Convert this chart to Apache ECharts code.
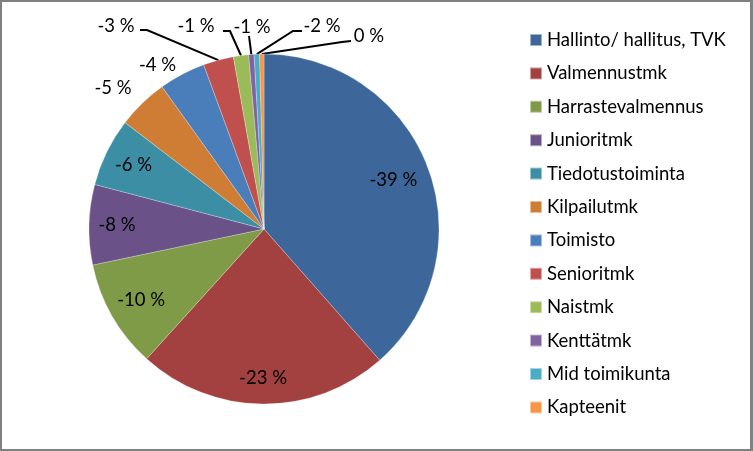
<!DOCTYPE html>
<html><head><meta charset="utf-8">
<script src="https://cdn.jsdelivr.net/npm/echarts@6/dist/echarts.min.js"></script>
<style>
html,body{margin:0;padding:0;background:#fff;}
#c{width:753px;height:451px;box-sizing:border-box;border-style:solid;border-color:#808080;border-width:2px 3px 2px 2px;}
</style></head>
<body><div id="c"></div>
<script>
// ---- data ----
const categories = ['Hallinto/ hallitus, TVK','Valmennustmk','Harrastevalmennus','Junioritmk','Tiedotustoiminta','Kilpailutmk','Toimisto','Senioritmk','Naistmk','Kenttätmk','Mid toimikunta','Kapteenit'];
const values = [38.5, 23.2, 10.0, 7.4, 6.3, 4.7, 4.3, 2.8, 1.4, 0.5, 0.5, 0.4];
const labelTexts = ['-39 %','-23 %','-10 %','-8 %','-6 %','-5 %','-4 %','-3 %','-1 %','-1 %','-2 %','0 %'];

// ---- style ----
const colors = ['#3D679A','#A2413F','#7F9B48','#6A5288','#3C8EA5','#CF7C35','#4A7EBB','#C0504D','#9BBB59','#8064A2','#4BACC6','#F79646'];
const FONT = 'Lato';
const CX = 262, CY = 227, R = 175;
const insideRatio = {0: 0.79, 1: 0.85, 2: 0.81, 3: 0.84, 4: 0.83};
const outsideNoLine = {5: {f: 1.19, ox: -6, oy: 9}, 6: {f: 1.13, ox: -14, oy: 11}};
const leader = {
  7:  {lx: 114, ly: 24, pts: [[145, 28], [138, 28]]},
  8:  {lx: 194, ly: 24, pts: [[228, 29], [221, 29]]},
  9:  {lx: 250, ly: 25, pts: [[247, 34]]},
  10: {lx: 320, ly: 24, pts: [[291, 29], [300, 29]]},
  11: {lx: 367, ly: 34, pts: [[340, 40], [349, 39]]}
};

const chart = echarts.init(document.getElementById('c'));
const data = categories.map((n, i) => {
  const d = {name: n, value: values[i], itemStyle: {color: colors[i]}};
  if (leader[i]) {
    d.label = {position: 'outside'};
    d.labelLine = {show: true};
  } else {
    d.label = {position: 'inside'};
    d.labelLine = {show: false};
  }
  return d;
});

chart.setOption({
  animation: false,
  legend: {
    orient: 'vertical', left: 527, top: 28, padding: 0,
    itemWidth: 12, itemHeight: 12, itemGap: 13.4,
    icon: 'rect',
    textStyle: {fontFamily: FONT, fontSize: 18.5, color: '#000', lineHeight: 20},
    data: categories
  },
  series: [{
    type: 'pie',
    center: [CX, CY], radius: R,
    startAngle: 90, clockwise: true,
    avoidLabelOverlap: false,
    data: data,
    itemStyle: {borderColor: 'rgba(255,255,255,0.5)', borderWidth: 0.5},
    label: {
      show: true, fontFamily: FONT, fontSize: 18.5, color: '#000',
      formatter: p => labelTexts[p.dataIndex]
    },
    labelLine: {lineStyle: {color: '#000', width: 2}, length: 10, length2: 10},
    emphasis: {disabled: true},
    labelLayout: function (p) {
      const i = p.dataIndex;
      const lr = p.labelRect;
      if (leader[i]) {
        const s = leader[i];
        const p0 = p.labelLinePoints ? [p.labelLinePoints[0][0], p.labelLinePoints[0][1]] : [CX, CY - R];
        return {x: s.lx, y: s.ly, align: 'center', verticalAlign: 'middle',
                labelLinePoints: [p0].concat(s.pts)};
      }
      const mx = lr.x + lr.width / 2, my = lr.y + lr.height / 2;
      const dx = mx - CX, dy = my - CY;
      const len = Math.sqrt(dx * dx + dy * dy) || 1;
      let f, ox = 0, oy = 0;
      if (outsideNoLine[i]) { f = outsideNoLine[i].f; ox = outsideNoLine[i].ox; oy = outsideNoLine[i].oy; }
      else f = insideRatio[i];
      return {x: CX + dx / len * R * f + ox, y: CY + dy / len * R * f + oy, align: 'center', verticalAlign: 'middle'};
    }
  }]
});
</script></body></html>
